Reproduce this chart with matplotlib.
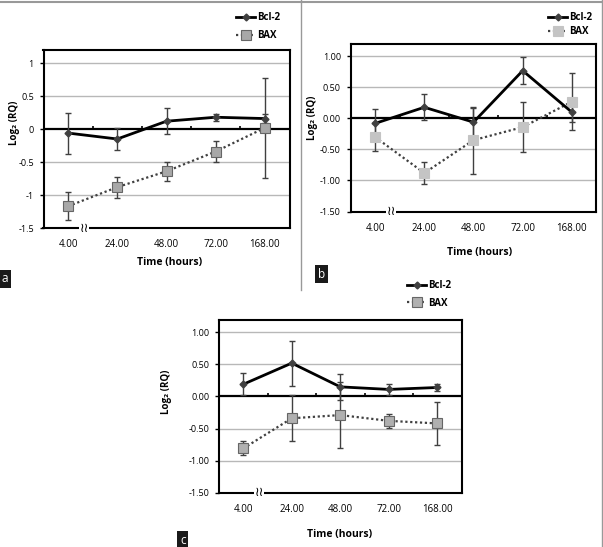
import matplotlib
matplotlib.use("Agg")
import matplotlib.pyplot as plt
import numpy as np

plt.rcParams['font.family'] = ['Open Sans', 'DejaVu Sans']

W, H = 603, 547

times = ['4.00', '24.00', '48.00', '72.00', '168.00']

# panel a
bcl2_a = [-0.06, -0.15, 0.12, 0.18, 0.16]
bcl2_a_err = [0.31, 0.17, 0.20, 0.05, 0.07]
bax_a = [-1.17, -0.88, -0.64, -0.34, 0.02]
bax_a_err = [0.21, 0.16, 0.145, 0.165, 0.76]

# panel b
bcl2_b = [-0.08, 0.18, -0.06, 0.77, 0.10]
bcl2_b_err = [0.24, 0.21, 0.23, 0.22, 0.16]
bax_b = [-0.30, -0.88, -0.35, -0.14, 0.27]
bax_b_err = [0.22, 0.18, 0.54, 0.40, 0.46]

# panel c
bcl2_c = [0.19, 0.52, 0.15, 0.11, 0.14]
bcl2_c_err = [0.17, 0.35, 0.20, 0.08, 0.05]
bax_c = [-0.81, -0.34, -0.29, -0.38, -0.42]
bax_c_err = [0.11, 0.36, 0.52, 0.11, 0.33]

ticks_a = [1, 0.5, 0, -0.5, -1, -1.5]
ticklabels_a = ['1', '0.5', '0', '-0.5', '-1', '-1.5']
ticklabels_bc = ['1.00', '0.50', '0.00', '-0.50', '-1.00', '-1.50']

fig = plt.figure(figsize=(W / 100, H / 100), dpi=100)


def px_axes(left, top, right, bottom):
    return fig.add_axes([left / W, 1 - bottom / H, (right - left) / W, (bottom - top) / H])


def draw_panel(ax, bcl2, bcl2_err, bax, bax_err, yticklabels, sq_face, sq_edge):
    x = np.arange(len(times))
    ax.set_xlim(-0.5, len(times) - 0.5)
    ax.set_ylim(-1.5, 1.2)
    for t in ticks_a:
        if t not in (0, -1.5):
            ax.axhline(t, color='#b8b8b8', lw=1, zorder=0)
    ax.axhline(0, color='black', lw=1.6, zorder=1)
    ax.vlines(x[:-1] + 0.5, 0, 0.05, color='black', lw=1.2, zorder=1)

    ax.errorbar(x, bax, yerr=bax_err, fmt='none', ecolor='#404040', elinewidth=1,
                capsize=2.5, capthick=1, zorder=2)
    ax.errorbar(x, bcl2, yerr=bcl2_err, fmt='none', ecolor='#404040', elinewidth=1,
                capsize=2.5, capthick=1, zorder=2)
    l_bax, = ax.plot(x, bax, ls=(0, (1, 1.2)), color='#404040', lw=1.6,
                     marker='s', ms=7, mfc=sq_face, mec=sq_edge, mew=0.8, zorder=3)
    l_bcl, = ax.plot(x, bcl2, ls='-', color='black', lw=2, marker='D', ms=3.5,
                     mfc='#404040', mec='#404040', zorder=4)

    ax.set_xticks(x)
    ax.set_xticklabels(times, fontsize=7)
    ax.tick_params(axis='x', length=0, pad=8)
    ax.set_yticks(ticks_a)
    ax.set_yticklabels(yticklabels, fontsize=6.5)
    ax.tick_params(axis='y', length=3, width=1, direction='out', pad=4)
    for s in ax.spines.values():
        s.set_linewidth(1.5)
        s.set_color('black')
    # axis break mark
    ax.text(0.33, -1.5, '\u2240\u2240', fontsize=9, ha='center', va='center',
            family='DejaVu Sans',
            bbox=dict(facecolor='white', edgecolor='none', pad=0.3), zorder=5, clip_on=False)
    return l_bcl, l_bax


def add_legend(handles, x, y, spacing):
    fig.legend(handles, ['Bcl-2', 'BAX'], loc='upper left',
               bbox_to_anchor=(x / W, 1 - y / H), frameon=False, handlelength=2.0,
               handletextpad=0.2, labelspacing=spacing, borderpad=0, borderaxespad=0,
               prop={'size': 7, 'weight': 'bold'})


def panel_tag(letter, x, y):
    fig.text(x / W, 1 - y / H, letter, color='white', fontsize=8.5, ha='left', va='center',
             bbox=dict(facecolor='#1a1a1a', edgecolor='none', pad=2))


# panel a
ax_a = px_axes(43.5, 50, 289.5, 228)
h = draw_panel(ax_a, bcl2_a, bcl2_a_err, bax_a, bax_a_err, ticklabels_a, '#a8a8a8', '#666666')
add_legend(h, 236, 12, 0.75)
fig.text(15 / W, 1 - 123 / H, 'Log\u2082 (RQ)', rotation=90, fontsize=7, fontweight='bold',
         ha='center', va='center', family=['Open Sans', 'DejaVu Sans'])
fig.text(170 / W, 1 - 262 / H, 'Time (hours)', fontsize=7.5, fontweight='bold', ha='center', va='center')
panel_tag('a', 2, 279)

# panel b
ax_b = px_axes(350.5, 44, 596.5, 211.5)
h = draw_panel(ax_b, bcl2_b, bcl2_b_err, bax_b, bax_b_err, ticklabels_bc, '#c4c4c4', '#c4c4c4')
add_legend(h, 548, 12, 0.35)
fig.text(313 / W, 1 - 118 / H, 'Log\u2082 (RQ)', rotation=90, fontsize=7, fontweight='bold',
         ha='center', va='center', family=['Open Sans', 'DejaVu Sans'])
fig.text(480 / W, 1 - 252 / H, 'Time (hours)', fontsize=7.5, fontweight='bold', ha='center', va='center')
panel_tag('b', 318, 274)

# panel c
ax_c = px_axes(219, 319.5, 461.5, 492.7)
h = draw_panel(ax_c, bcl2_c, bcl2_c_err, bax_c, bax_c_err, ticklabels_bc, '#b0b0b0', '#666666')
add_legend(h, 407, 280, 0.7)
fig.text(167 / W, 1 - 392 / H, 'Log\u2082 (RQ)', rotation=90, fontsize=7, fontweight='bold',
         ha='center', va='center', family=['Open Sans', 'DejaVu Sans'])
fig.text(340 / W, 1 - 535 / H, 'Time (hours)', fontsize=7.5, fontweight='bold', ha='center', va='center')
panel_tag('c', 180, 540)

# gray frame lines
fig.add_artist(plt.Line2D([0, 1], [1 - 1.5 / H, 1 - 1.5 / H], color='#999999', lw=1.5))
fig.add_artist(plt.Line2D([301 / W, 301 / W], [1, 1 - 290 / H], color='#999999', lw=1))
fig.add_artist(plt.Line2D([601.5 / W, 601.5 / W], [1, 0], color='#999999', lw=1))

fig.savefig('out.png', dpi=100)
